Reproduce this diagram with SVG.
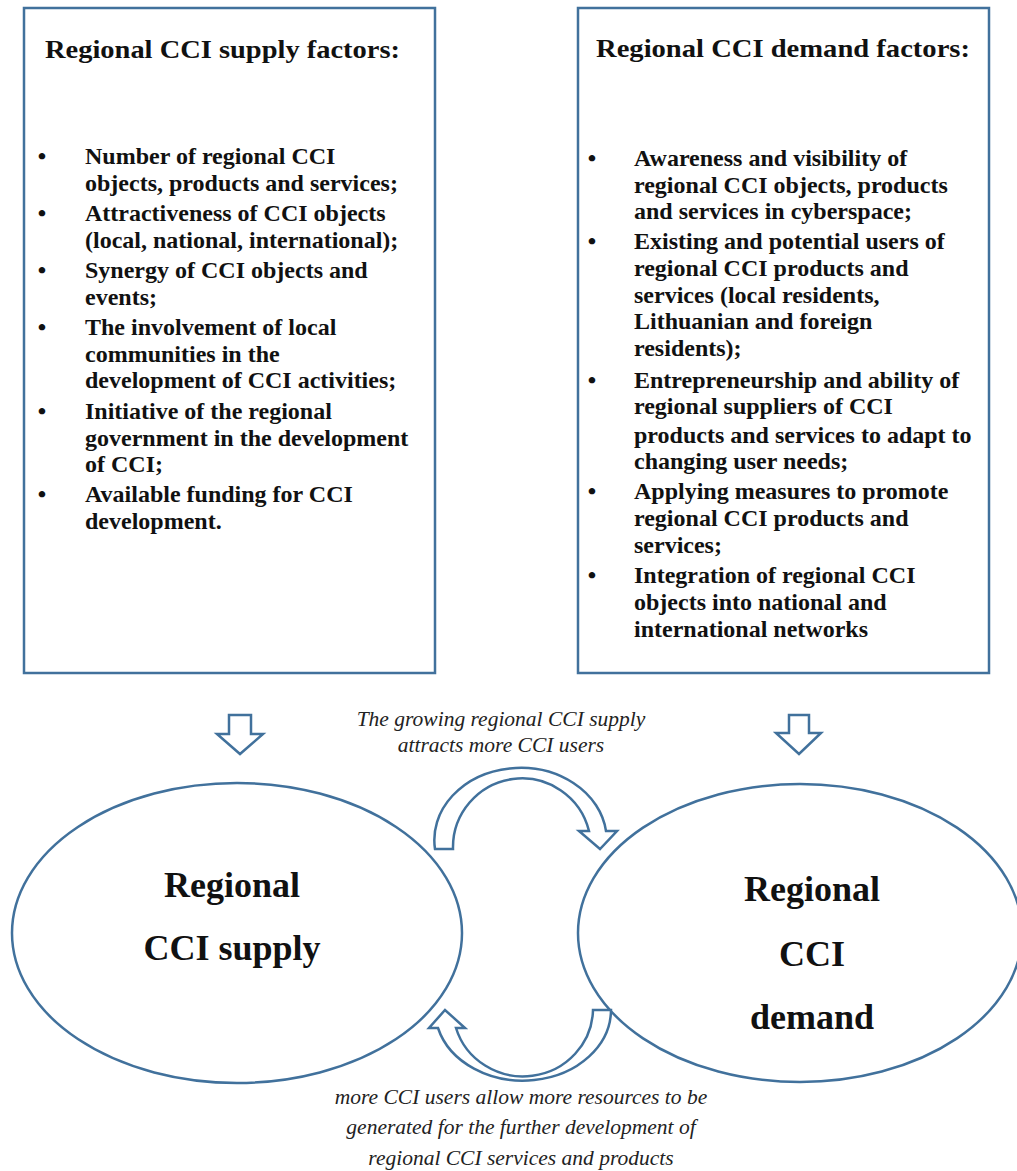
<svg xmlns="http://www.w3.org/2000/svg" width="1017" height="1171" viewBox="0 0 1017 1171">
<style>
.box{fill:#fff;stroke:#41719c;stroke-width:2.5}
.shape{fill:#fff;stroke:#41719c;stroke-width:2.5;stroke-linejoin:miter}
.title{font-family:"Liberation Serif",serif;font-weight:bold;font-size:26px;fill:#111}
.item{font-family:"Liberation Serif",serif;font-weight:bold;font-size:24px;fill:#111}
.bul{font-family:"Liberation Serif",serif;font-weight:bold;font-size:24px;fill:#111;text-anchor:middle}
.big{font-family:"Liberation Serif",serif;font-weight:bold;font-size:36px;fill:#111;text-anchor:middle}
.lab{font-family:"Liberation Serif",serif;font-style:italic;font-size:21.5px;fill:#222;text-anchor:middle}
</style>
<rect width="1017" height="1171" fill="#fff"/>
<g id="supply-factors">
<rect class="box" x="24" y="8" width="411" height="665"/>
<text class="title" x="45" y="58" textLength="355" lengthAdjust="spacingAndGlyphs">Regional CCI supply factors:</text>
<text class="bul" x="42" y="164">•</text>
<text class="item" x="85" y="164">Number of regional CCI</text>
<text class="item" x="85" y="191">objects, products and services;</text>
<text class="bul" x="42" y="221">•</text>
<text class="item" x="85" y="221">Attractiveness of CCI objects</text>
<text class="item" x="85" y="248">(local, national, international);</text>
<text class="bul" x="42" y="278">•</text>
<text class="item" x="85" y="278">Synergy of CCI objects and</text>
<text class="item" x="85" y="305">events;</text>
<text class="bul" x="42" y="335">•</text>
<text class="item" x="85" y="335">The involvement of local</text>
<text class="item" x="85" y="362">communities in the</text>
<text class="item" x="85" y="388">development of CCI activities;</text>
<text class="bul" x="42" y="419">•</text>
<text class="item" x="85" y="419">Initiative of the regional</text>
<text class="item" x="85" y="446">government in the development</text>
<text class="item" x="85" y="472">of CCI;</text>
<text class="bul" x="42" y="502">•</text>
<text class="item" x="85" y="502">Available funding for CCI</text>
<text class="item" x="85" y="529">development.</text>
</g>
<g id="demand-factors">
<rect class="box" x="578" y="8" width="411" height="665"/>
<text class="title" x="596" y="57" textLength="374" lengthAdjust="spacingAndGlyphs">Regional CCI demand factors:</text>
<text class="bul" x="592" y="166">•</text>
<text class="item" x="634" y="166">Awareness and visibility of</text>
<text class="item" x="634" y="193">regional CCI objects, products</text>
<text class="item" x="634" y="219">and services in cyberspace;</text>
<text class="bul" x="592" y="249">•</text>
<text class="item" x="634" y="249">Existing and potential users of</text>
<text class="item" x="634" y="276">regional CCI products and</text>
<text class="item" x="634" y="303">services (local residents,</text>
<text class="item" x="634" y="329">Lithuanian and foreign</text>
<text class="item" x="634" y="356">residents);</text>
<text class="bul" x="592" y="388">•</text>
<text class="item" x="634" y="388">Entrepreneurship and ability of</text>
<text class="item" x="634" y="414">regional suppliers of CCI</text>
<text class="item" x="634" y="443">products and services to adapt to</text>
<text class="item" x="634" y="469">changing user needs;</text>
<text class="bul" x="592" y="499">•</text>
<text class="item" x="634" y="499">Applying measures to promote</text>
<text class="item" x="634" y="526">regional CCI products and</text>
<text class="item" x="634" y="553">services;</text>
<text class="bul" x="592" y="583">•</text>
<text class="item" x="634" y="583">Integration of regional CCI</text>
<text class="item" x="634" y="610">objects into national and</text>
<text class="item" x="634" y="637">international networks</text>
</g>
<g id="supply">
<ellipse class="shape" cx="237" cy="933" rx="225" ry="150"/>
<text class="big" x="232" y="897">Regional</text>
<text class="big" x="232" y="960">CCI supply</text>
</g>
<g id="demand">
<ellipse class="shape" cx="800" cy="933" rx="222" ry="149"/>
<text class="big" x="812" y="901">Regional</text>
<text class="big" x="812" y="966">CCI</text>
<text class="big" x="812" y="1029">demand</text>
</g>
<g id="connectors">
<path class="shape" d="M229,715 L251,715 L251,734 L263,734 L240,754 L217,734 L229,734 Z"/>
<path class="shape" d="M789,715 L809,715 L809,733 L821,733 L799,754 L776,733 L789,733 Z"/>
<path class="shape" d="M435,849 A86,72 0 0 1 606,831 L617,831 L600,849 L579,831 L589,831 A69,69 0 0 0 453,849 Z"/>
<path class="shape" d="M611,1010 A88,71 0 0 1 438,1028 L429,1028 L445,1010 L465,1028 L456,1028 A70,68 0 0 0 593,1010 Z"/>
<text class="lab" x="501" y="726">The growing regional CCI supply</text>
<text class="lab" x="501" y="752">attracts more CCI users</text>
<text class="lab" x="521" y="1104">more CCI users allow more resources to be</text>
<text class="lab" x="521" y="1134">generated for the further development of</text>
<text class="lab" x="521" y="1165">regional CCI services and products</text>
</g>
</svg>
